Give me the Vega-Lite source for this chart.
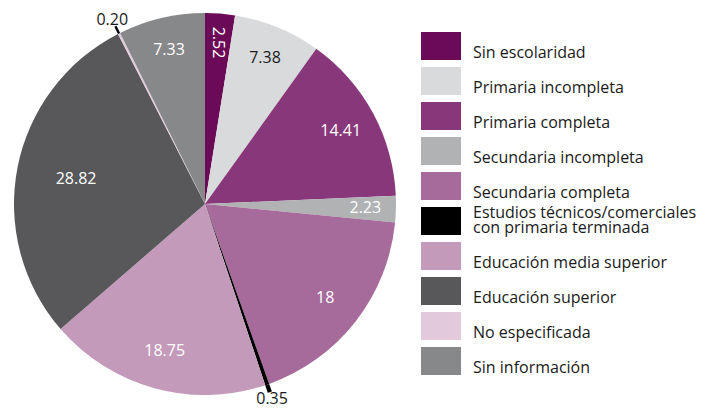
{
  "$schema": "https://vega.github.io/schema/vega-lite/v6.json",
  "width": 410,
  "height": 408,
  "padding": 0,
  "background": "white",
  "config": {"view": {"stroke": null}, "font": "Open Sans"},
  "data": {"values": [
    {"cat": "Sin escolaridad", "value": 2.52, "ord": 1, "lbl": "2.52"},
    {"cat": "Primaria incompleta", "value": 7.38, "ord": 2, "lbl": "7.38"},
    {"cat": "Primaria completa", "value": 14.41, "ord": 3, "lbl": "14.41"},
    {"cat": "Secundaria incompleta", "value": 2.23, "ord": 4, "lbl": "2.23"},
    {"cat": "Secundaria completa", "value": 18, "ord": 5, "lbl": "18"},
    {"cat": "Estudios técnicos/comerciales con primaria terminada", "value": 0.35, "ord": 6, "lbl": "0.35"},
    {"cat": "Educación media superior", "value": 18.75, "ord": 7, "lbl": "18.75"},
    {"cat": "Educación superior", "value": 28.82, "ord": 8, "lbl": "28.82"},
    {"cat": "No especificada", "value": 0.20, "ord": 9, "lbl": "0.20"},
    {"cat": "Sin información", "value": 7.33, "ord": 10, "lbl": "7.33"}
  ]},
  "encoding": {
    "theta": {"field": "value", "type": "quantitative", "stack": true},
    "order": {"field": "ord", "type": "quantitative"}
  },
  "layer": [
    {
      "mark": {"type": "arc", "outerRadius": 191},
      "encoding": {
        "color": {
          "field": "cat", "type": "nominal",
          "scale": {
            "domain": ["Sin escolaridad", "Primaria incompleta", "Primaria completa", "Secundaria incompleta", "Secundaria completa", "Estudios técnicos/comerciales con primaria terminada", "Educación media superior", "Educación superior", "No especificada", "Sin información"],
            "range": ["#6b0a57", "#d9dadb", "#88387a", "#b1b2b4", "#a66b9b", "#000000", "#c49abb", "#58585a", "#e2cadb", "#87888a"]
          },
          "legend": {
            "title": null,
            "orient": "none",
            "legendX": 421,
            "legendY": 26,
            "symbolType": "M-1,-0.7H1V0.7H-1Z",
            "symbolSize": 1600,
            "symbolStrokeWidth": 0,
            "symbolOpacity": 1,
            "labelFont": "Open Sans",
            "labelFontSize": 16,
            "labelColor": "#1a1a1a",
            "labelLimit": 0,
            "labelOffset": 12,
            "labelBaseline": "bottom",
            "rowPadding": 0,
            "encode": {"labels": {"update": {"lineHeight": {"value": 15}}}},
            "labelExpr": "datum.label == 'Estudios técnicos/comerciales con primaria terminada' ? ['Estudios técnicos/comerciales', 'con primaria terminada'] : ['', datum.label]"
          }
        }
      }
    },
    {
      "mark": {"type": "arc", "radius": 199, "radius2": 191},
      "encoding": {
        "color": {
          "condition": {"test": "datum.value < 1", "value": "#000000"},
          "value": "transparent"
        }
      }
    },
    {
      "mark": {"type": "text", "fontSize": 16, "font": "Open Sans", "baseline": "middle"},
      "encoding": {
        "radius": {
          "field": "value", "type": "quantitative",
          "scale": {"domain": [0.9, 1, 19, 29], "range": [206, 161, 152, 131], "clamp": true, "zero": false}
        },
        "text": {"condition": {"test": "datum.ord != 1", "field": "lbl"}, "value": ""},
        "color": {"condition": {"test": "datum.ord == 2 || datum.value < 1", "value": "#1a1a1a"}, "value": "white"}
      }
    },
    {
      "mark": {"type": "text", "radius": 162, "angle": 90, "fontSize": 16, "font": "Open Sans", "color": "white", "baseline": "middle"},
      "encoding": {
        "text": {"condition": {"test": "datum.ord == 1", "field": "lbl"}, "value": ""}
      }
    }
  ]
}
